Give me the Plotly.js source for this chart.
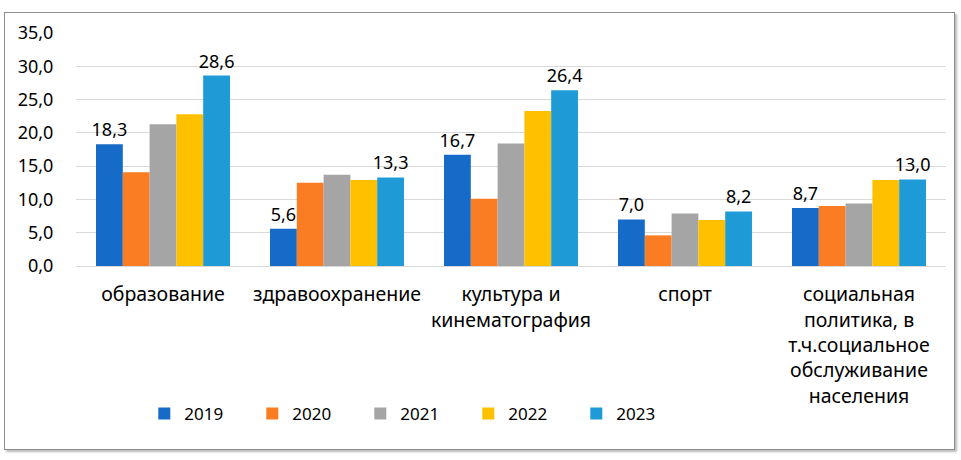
<!DOCTYPE html>
<html>
<head>
<meta charset="utf-8">
<script src="https://cdn.plot.ly/plotly-3.0.1.min.js"></script>
<style>
  html, body { margin: 0; padding: 0; background: #fff; }
  #wrap { position: relative; width: 961px; height: 460px; }
  #frame { position: absolute; left: 4px; top: 12px; width: 949px; height: 436px;
           border: 1px solid #8c8c8c; box-shadow: 2px 2px 2px #bbb; }
  #chart { position: absolute; left: 0; top: 0; width: 961px; height: 460px; }
</style>
</head>
<body>
<div id="wrap">
  <div id="frame"></div>
  <div id="chart"></div>
</div>
<script>
const categories = [
  "образование",
  "здравоохранение",
  "культура и<br>кинематография",
  "спорт",
  "социальная<br>политика, в<br>т.ч.социальное<br>обслуживание<br>населения"
];
const years = ["2019", "2020", "2021", "2022", "2023"];
const v2019 = [18.3, 5.6, 16.7, 7.0, 8.7];
const v2020 = [14.1, 12.5, 10.1, 4.6, 9.0];
const v2021 = [21.3, 13.7, 18.4, 7.9, 9.4];
const v2022 = [22.8, 12.9, 23.3, 6.9, 12.9];
const v2023 = [28.6, 13.3, 26.4, 8.2, 13.0];
const yTicks = [0, 5, 10, 15, 20, 25, 30, 35];

const series = [v2019, v2020, v2021, v2022, v2023];
const colors = ["#166BC8", "#FA7D23", "#A5A5A5", "#FFC000", "#1E9BD7"];
const labelled = [true, false, false, false, true];
const fmt = v => v.toFixed(1).replace('.', ',');

const traces = series.map((vals, i) => ({
  type: 'bar',
  name: years[i],
  x: categories,
  y: vals,
  marker: { color: colors[i] },
  text: labelled[i] ? vals.map(fmt) : undefined,
  textposition: labelled[i] ? 'outside' : 'none',
  constraintext: 'none',
  textfont: { family: 'Noto Sans, sans-serif', size: 18, color: '#000' },
  cliponaxis: false,
  hoverinfo: 'none'
}));

const layout = {
  width: 961, height: 460,
  margin: { l: 76, r: 15, t: 33, b: 194 },
  paper_bgcolor: 'rgba(0,0,0,0)',
  plot_bgcolor: 'rgba(0,0,0,0)',
  barmode: 'group',
  bargap: 0.23,
  bargroupgap: 0,
  separators: ', ',
  font: { family: 'Noto Sans, sans-serif', size: 18, color: '#000' },
  showlegend: true,
  xaxis: {
    type: 'category',
    tickmode: 'array',
    tickvals: categories,
    ticktext: categories,
    tickangle: 0,
    ticks: 'outside', ticklen: 11, tickcolor: 'rgba(0,0,0,0)',
    tickfont: { family: 'Noto Sans, sans-serif', size: 19.5, color: '#000' },
    showline: false, showgrid: false, zeroline: false
  },
  yaxis: {
    range: [0, 35],
    tickmode: 'array',
    tickvals: yTicks,
    ticktext: yTicks.map(fmt),
    ticks: 'outside', ticklen: 18, tickcolor: 'rgba(0,0,0,0)',
    tickfont: { family: 'Noto Sans, sans-serif', size: 18, color: '#000' },
    showgrid: true, gridcolor: '#d9d9d9', gridwidth: 1,
    zeroline: true, zerolinecolor: '#d9d9d9', zerolinewidth: 1,
    showline: false
  },
  legend: {
    orientation: 'h',
    x: 0.0785, xanchor: 'left',
    y: -0.635, yanchor: 'middle',
    font: { family: 'Noto Sans, sans-serif', size: 17, color: '#000' },
    entrywidth: 63, entrywidthmode: 'pixels',
    bgcolor: 'rgba(0,0,0,0)',
    traceorder: 'normal'
  }
};

Plotly.newPlot('chart', traces, layout, { staticPlot: true, displayModeBar: false });
</script>
</body>
</html>
